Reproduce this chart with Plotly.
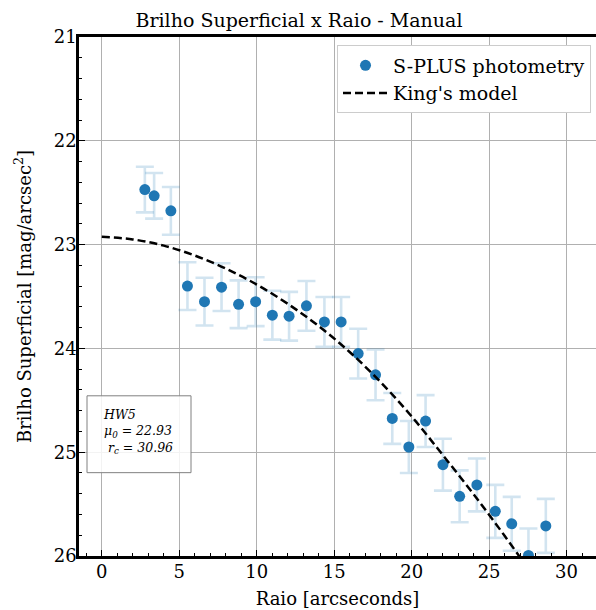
import plotly.graph_objects as go

# Observed data (S-PLUS photometry)
raio = [2.78, 3.38, 4.46, 5.53, 6.63, 7.73, 8.83, 9.93, 11.01, 12.09, 13.21, 14.37, 15.45,
        16.55, 17.67, 18.75, 19.82, 20.90, 22.02, 23.10, 24.21, 25.40, 26.46, 27.54, 28.66]
brilho = [22.47, 22.53, 22.675, 23.40, 23.55, 23.41, 23.575, 23.55, 23.68, 23.69, 23.59, 23.745, 23.745,
          24.05, 24.255, 24.675, 24.95, 24.70, 25.12, 25.425, 25.315, 25.57, 25.69, 25.995, 25.71]
erro = [0.22, 0.22, 0.23, 0.23, 0.23, 0.23, 0.23, 0.235, 0.235, 0.235, 0.24, 0.24, 0.24,
        0.24, 0.245, 0.245, 0.25, 0.25, 0.25, 0.25, 0.255, 0.255, 0.26, 0.26, 0.26]

# King's model curve
modelo_r = [0, 2, 4, 6, 8, 10, 12, 14, 16, 18, 20, 22, 24, 26, 28]
modelo_mu = [22.925, 22.95, 23.01, 23.105, 23.23, 23.385, 23.57, 23.785, 24.035, 24.325,
             24.655, 25.025, 25.405, 25.805, 26.225]

x_ticks = [0, 5, 10, 15, 20, 25, 30]
y_ticks = [21, 22, 23, 24, 25, 26]

FONT = "DejaVu Serif"
BLUE = "#1f77b4"

fig = go.Figure()
fig.add_trace(go.Scatter(
    x=raio, y=brilho, mode="markers", name="S-PLUS photometry",
    marker=dict(color=BLUE, size=11),
    error_y=dict(type="data", array=erro, visible=True,
                 color="rgba(31,119,180,0.2)", thickness=2.6, width=9),
))
fig.add_trace(go.Scatter(
    x=modelo_r, y=modelo_mu, mode="lines", name="King's model",
    line=dict(color="black", width=2.5, dash="8px,4px", shape="spline"),
))

W, H = 596, 610
L = 79
T = 36.5
BOT = 556.5
B = H - BOT
pw = W - L
ph = BOT - T

def px(x):
    return (x - L) / pw

def py(y):
    return 1 - (y - T) / ph

fig.update_layout(
    width=W, height=H,
    margin=dict(l=L, r=0, t=T, b=B, pad=0),
    paper_bgcolor="white", plot_bgcolor="white",
    font=dict(family=FONT, color="black", size=18),
    title=dict(text="Brilho Superficial x Raio - Manual", x=299 / W, xref="container",
               xanchor="center", y=1 - 20 / H, yanchor="middle",
               font=dict(family=FONT, size=19, color="black")),
    showlegend=True,
    legend=dict(x=px(337), y=py(45), xanchor="left", yanchor="top",
                bgcolor="white", bordercolor="#cccccc", borderwidth=1,
                font=dict(family=FONT, size=19, color="black"),
                itemwidth=45, tracegroupgap=4),
    xaxis=dict(range=[-1.47, 31.9], tickvals=x_ticks, ticktext=[str(v) for v in x_ticks],
               showgrid=True, gridcolor="#b0b0b0", gridwidth=1,
               showline=True, linecolor="black", linewidth=2.5, mirror=True,
               ticks="inside", ticklen=6, tickwidth=1.2, tickcolor="black",
               minor=dict(ticks="inside", dtick=1, ticklen=3.5, tickwidth=1, tickcolor="black", showgrid=False),
               zeroline=False, tickfont=dict(size=18), ticklabelstandoff=-2,
               title=dict(text="Raio [arcseconds]", font=dict(size=18), standoff=12)),
    yaxis=dict(range=[26, 21], tickvals=y_ticks, ticktext=[str(v) for v in y_ticks],
               showgrid=True, gridcolor="#b0b0b0", gridwidth=1,
               showline=True, linecolor="black", linewidth=2.5, mirror=False,
               ticks="inside", ticklen=6, tickwidth=1.2, tickcolor="black",
               minor=dict(ticks="inside", dtick=0.2, ticklen=3.5, tickwidth=1, tickcolor="black", showgrid=False),
               zeroline=False, tickfont=dict(size=18), ticklabelstandoff=-4,
               title=dict(text="Brilho Superficial [mag/arcsec<sup>2</sup>]", font=dict(size=18), standoff=18)),
)

fig.add_shape(type="rect", xref="paper", yref="paper",
              x0=px(87), x1=px(191), y0=py(473), y1=py(396),
              line=dict(color="#808080", width=1), fillcolor="rgba(255,255,255,0.85)", layer="above")
fig.add_annotation(xref="paper", yref="paper", x=px(101), y=py(432), xanchor="left", yanchor="middle",
                   align="left", showarrow=False,
                   text="<i>HW5</i><br><i>μ<sub>0</sub> = 22.93</i><br><i> r<sub>c</sub> = 30.96</i>",
                   font=dict(family=FONT, size=12.5, color="black"))

fig.write_html("out.html", config={"displayModeBar": False},
               post_script="document.body.style.margin='0';document.body.style.overflow='hidden';")
